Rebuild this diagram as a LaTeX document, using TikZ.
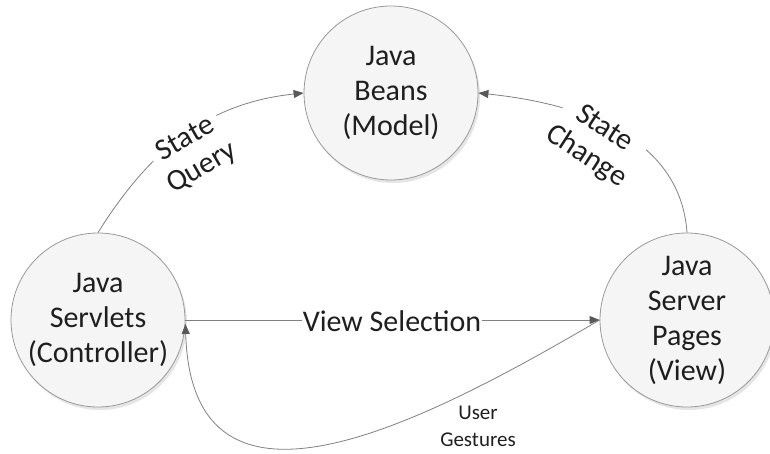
\documentclass[tikz,border=0pt]{standalone}
\usepackage{fontspec}
\setmainfont{Carlito}
\usetikzlibrary{arrows.meta,shadows}
\begin{document}
\begin{tikzpicture}[x=1pt,y=1pt,
  actor/.style={circle, minimum size=174pt, inner sep=0pt, align=center,
    draw=black!40, line width=0.8pt, fill=black!4,
    drop shadow={shadow xshift=2pt, shadow yshift=-3pt, opacity=0.10, fill=black},
    font=\fontsize{30}{35}\selectfont, text=black!88},
  flow/.style={draw=black!50, line width=0.8pt,
    -{Triangle[length=10pt,width=8pt,color=black!65]}},
  biglabel/.style={font=\fontsize{30}{33}\selectfont, text=black!88, align=center,
    fill=white, inner sep=1pt},
  smalllabel/.style={font=\fontsize{21}{27}\selectfont, text=black!88, align=center,
    inner sep=1pt}]
\useasboundingbox (0,0) rectangle (770,-454);

% the three parts of the pattern
\node[actor] (model) at (391,-93)  {Java\\Beans\\(Model)};
\node[actor] (ctrl)  at (98,-320)  {Java\\Servlets\\(Controller)};
\node[actor] (view)  at (687,-320) {Java\\Server\\Pages\\(View)};

% connectors
\draw[flow] (ctrl.north) to[out=58, in=186] (model.west);
\draw[flow] (view.north) to[out=94, in=-6] (model.east);
\draw[flow] (ctrl.east) -- (view.west);
\draw[flow] (view.west) .. controls (427,-421) and (192,-545) .. ([yshift=-4pt]ctrl.east);

% labels
\node[biglabel] (vs) at (392,-321) {View Selection};
\node[biglabel, rotate=30] (sq) at (194,-154) {State\\Query};
\node[biglabel, rotate=-33] (sc) at (595,-143) {State\\Change};
\node[smalllabel] (ug) at (478,-426) {User\\Gestures};
\end{tikzpicture}
\end{document}
